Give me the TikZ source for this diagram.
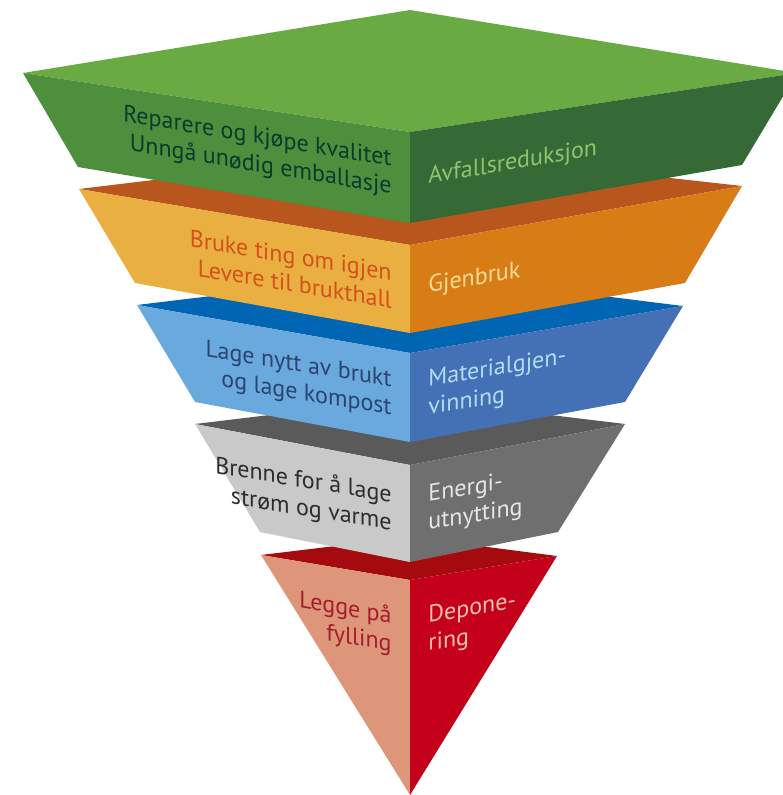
\documentclass[tikz,border=0pt]{standalone}
\usepackage{fontspec}
\setmainfont{PT Sans}
\usepackage{tikz}

\definecolor{grtop}{HTML}{6AAA42}
\definecolor{grleft}{HTML}{4E8F3D}
\definecolor{grright}{HTML}{356A37}
\definecolor{grtxtl}{HTML}{0B3A2E}
\definecolor{grtxtr}{HTML}{8FC46E}
\definecolor{ortop}{HTML}{B9561E}
\definecolor{orleft}{HTML}{E9B041}
\definecolor{orright}{HTML}{D87C16}
\definecolor{ortxtl}{HTML}{D5501C}
\definecolor{ortxtr}{HTML}{F8DC98}
\definecolor{bltop}{HTML}{0066B3}
\definecolor{blleft}{HTML}{69A9DE}
\definecolor{blright}{HTML}{4470B5}
\definecolor{bltxtl}{HTML}{2B4470}
\definecolor{bltxtr}{HTML}{B3DCF7}
\definecolor{gytop}{HTML}{5A5A5A}
\definecolor{gyleft}{HTML}{C9C9C9}
\definecolor{gyright}{HTML}{6F6F6F}
\definecolor{gytxtl}{HTML}{2D2D2D}
\definecolor{gytxtr}{HTML}{E6E6E6}
\definecolor{rdtop}{HTML}{A50A0F}
\definecolor{rdleft}{HTML}{DE967B}
\definecolor{rdright}{HTML}{C5001A}
\definecolor{rdtxtl}{HTML}{A51D2D}
\definecolor{rdtxtr}{HTML}{F3C1AE}

\begin{document}
\begin{tikzpicture}[x=0.5pt, y=-0.5pt,
    lbl/.style={inner sep=0pt, font=\fontsize{12}{14}\selectfont},
    lefttxt/.style={lbl, align=right, anchor=east, yslant=-0.165},
    righttxt/.style={lbl, align=left, anchor=west, yslant=0.17}]
    \useasboundingbox (0,0) rectangle (782,795);

    % Layers, bottom first
    \fill[rdtop] (261,555) -- (410,537) -- (557,556) -- (410,580) -- cycle;
    \fill[rdleft] (261,555) -- (410,580) -- (410,795) -- cycle;
    \fill[rdright] (410,580) -- (557,556) -- (410,795) -- cycle;

    \fill[gytop] (195,424) -- (410,398) -- (625,424) -- (410,465) -- cycle;
    \fill[gyleft] (195,424) -- (410,465) -- (410,562) -- (260,532) -- cycle;
    \fill[gyright] (410,465) -- (625,424) -- (558,532) -- (410,562) -- cycle;

    \fill[bltop] (137,305) -- (410,272) -- (683,306) -- (410,353) -- cycle;
    \fill[blleft] (137,305) -- (410,353) -- (410,442) -- (195,402) -- cycle;
    \fill[blright] (410,353) -- (683,306) -- (625,402) -- (410,442) -- cycle;

    \fill[ortop] (79,189) -- (410,149) -- (742,186) -- (410,245) -- cycle;
    \fill[orleft] (79,189) -- (410,245) -- (410,333) -- (135,283) -- cycle;
    \fill[orright] (410,245) -- (742,186) -- (685,283) -- (410,333) -- cycle;

    \fill[grtop] (23,73) -- (410,10) -- (797,73) -- (410,132) -- cycle;
    \fill[grleft] (23,73) -- (410,132) -- (410,223) -- (78,167) -- cycle;
    \fill[grright] (410,132) -- (797,73) -- (742,165) -- (410,223) -- cycle;

    % Labels
    \node[lefttxt, text=grtxtl] (redAct) at (392,174) {Reparere og kjøpe kvalitet\\Unngå unødig emballasje};
    \node[righttxt, text=grtxtr] (redName) at (428,178) {Avfallsreduksjon};

    \node[lefttxt, text=ortxtl] (reuAct) at (392,286) {Bruke ting om igjen\\Levere til brukthall};
    \node[righttxt, text=ortxtr] (reuName) at (428,287) {Gjenbruk};

    \node[lefttxt, text=bltxtl] (recAct) at (392,395) {Lage nytt av brukt\\og lage kompost};
    \node[righttxt, text=bltxtr] (recName) at (428,395) {Materialgjen-\\vinning};

    \node[lefttxt, text=gytxtl] (enAct) at (392,510) {Brenne for å lage\\strøm og varme};
    \node[righttxt, text=gytxtr] (enName) at (428,510) {Energi-\\utnytting};

    \node[lefttxt, text=rdtxtl] (depAct) at (392,631) {Legge på\\fylling};
    \node[righttxt, text=rdtxtr] (depName) at (428,631) {Depone-\\ring};
\end{tikzpicture}
\end{document}
